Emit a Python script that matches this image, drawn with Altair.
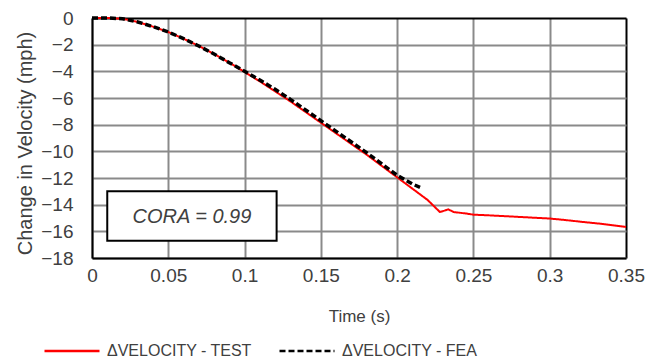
import altair as alt
import pandas as pd

# TEST series (red)
test_t = [0, 0.01, 0.02, 0.03, 0.04, 0.05, 0.06, 0.07, 0.08, 0.09, 0.1, 0.11, 0.12,
          0.13, 0.14, 0.15, 0.16, 0.17, 0.18, 0.19, 0.2, 0.21, 0.22, 0.228, 0.231,
          0.2335, 0.237, 0.2455, 0.25, 0.26, 0.272, 0.285, 0.3, 0.31, 0.322, 0.335, 0.35]
test_v = [0, 0, -0.05, -0.3, -0.65, -1.05, -1.55, -2.1, -2.7, -3.35, -4.05, -4.75, -5.5,
          -6.25, -7.05, -7.85, -8.65, -9.45, -10.25, -11.1, -11.95, -12.8, -13.65, -14.55, -14.45,
          -14.35, -14.55, -14.67, -14.75, -14.8, -14.87, -14.95, -15.04, -15.15, -15.3, -15.45, -15.67]

# FEA series (black dashed)
fea_t = [0, 0.01, 0.02, 0.03, 0.04, 0.05, 0.06, 0.07, 0.08, 0.09, 0.1, 0.11, 0.12,
         0.13, 0.14, 0.15, 0.16, 0.17, 0.18, 0.19, 0.2, 0.21, 0.215]
fea_v = [0, 0, -0.05, -0.3, -0.65, -1.05, -1.55, -2.1, -2.7, -3.35, -4.0, -4.65, -5.35,
         -6.1, -6.9, -7.7, -8.5, -9.3, -10.1, -10.95, -11.8, -12.45, -12.7]

series_names = ["\u0394VELOCITY - TEST", "\u0394VELOCITY - FEA"]
x_ticks = [0, 0.05, 0.1, 0.15, 0.2, 0.25, 0.3, 0.35]
y_ticks = [-18, -16, -14, -12, -10, -8, -6, -4, -2, 0]

# annotation box
box_x = [0.01]
box_x2 = [0.121]
box_y = [-13.0]
box_y2 = [-16.7]
label_x = [0.0655]
label_y = [-14.9]
label_text = ["CORA = 0.99"]

df = pd.concat([
    pd.DataFrame({"t": test_t, "v": test_v, "s": series_names[0]}),
    pd.DataFrame({"t": fea_t, "v": fea_v, "s": series_names[1]}),
])
box_df = pd.DataFrame({"x": box_x, "x2": box_x2, "y": box_y, "y2": box_y2})
lab_df = pd.DataFrame({"x": label_x, "y": label_y, "text": label_text})

FONT = "Liberation Sans"
TXT = "#404040"
GRID = "#8a8a8a"

xscale = alt.Scale(domain=[0, 0.35], nice=False, zero=False)
yscale = alt.Scale(domain=[-18, 0], nice=False, zero=False)

xaxis = alt.Axis(values=x_ticks, format="~g", title="Time (s)", grid=True,
                 gridColor={"condition": {"test": "datum.value >= 0.349", "value": "black"}, "value": GRID},
                 gridWidth=2, domainColor="black", domainWidth=2,
                 ticks=False, tickSize=0, labelPadding=8, labelFontSize=19, labelColor=TXT,
                 labelFlush=False, labelOverlap=False, labelBound=False,
                 labelFont=FONT, titleFont=FONT, titleFontSize=17, titleColor=TXT,
                 titleFontWeight="normal", titleBaseline="middle", titleY=58)
yaxis = alt.Axis(values=y_ticks, format="d", title="Change in Velocity (mph)", grid=True,
                 gridColor={"condition": {"test": "datum.value >= -0.01", "value": "black"}, "value": GRID},
                 gridWidth=2, domainColor="black", domainWidth=2,
                 ticks=False, tickSize=0, labelPadding=19, labelFontSize=19, labelColor=TXT,
                 labelFlush=False, labelOverlap=False, labelBound=False,
                 labelFont=FONT, titleFont=FONT, titleFontSize=20, titleColor=TXT,
                 titleFontWeight="normal", titleBaseline="middle", titleAlign="center",
                 titleAngle=-90, titleX=-67, titleY=125)

color_scale = alt.Scale(domain=series_names, range=["#ff0000", "black"])
dash_scale = alt.Scale(domain=series_names, range=[[1, 0], [6, 3]])
legend = alt.Legend(title=None, orient="none", legendX=-49, legendY=304, direction="horizontal",
                    symbolType="stroke", symbolSize=3025, symbolStrokeWidth=2.6,
                    labelFont=FONT, labelFontSize=16, labelColor=TXT, labelOffset=6,
                    columnPadding=22, labelLimit=300)

X = alt.X("t:Q", scale=xscale, axis=xaxis)
Y = alt.Y("v:Q", scale=yscale, axis=yaxis)

base = alt.Chart(df)
red = base.transform_filter(alt.datum.s == series_names[0]).mark_line(strokeWidth=2).encode(
    x=X, y=Y,
    color=alt.Color("s:N", scale=color_scale, legend=legend),
    strokeDash=alt.StrokeDash("s:N", scale=dash_scale, legend=legend),
)
fea = base.transform_filter(alt.datum.s == series_names[1]).mark_line(strokeWidth=3.5).encode(
    x=X, y=Y,
    color=alt.Color("s:N", scale=color_scale, legend=legend),
    strokeDash=alt.StrokeDash("s:N", scale=dash_scale, legend=legend),
)
box = alt.Chart(box_df).mark_rect(fill="white", stroke="black", strokeWidth=2).encode(
    x=alt.X("x:Q", scale=xscale, axis=xaxis), x2="x2:Q",
    y=alt.Y("y:Q", scale=yscale, axis=yaxis), y2="y2:Q",
)
txt = alt.Chart(lab_df).mark_text(font=FONT, fontSize=20, fontStyle="italic", color=TXT,
                                   align="center", baseline="middle").encode(
    x=alt.X("x:Q", scale=xscale, axis=xaxis), y=alt.Y("y:Q", scale=yscale, axis=yaxis), text="text:N",
)

chart = alt.layer(red, fea, box, txt).properties(
    width=534, height=240,
    autosize=alt.AutoSizeParams(type="none"),
    padding={"left": 84, "top": 10, "right": 28, "bottom": 105},
).configure_view(stroke="black", strokeWidth=2).configure_axis(
    labelOverlap=False, labelFlush=False, labelBound=False
).configure(background="white")

chart.save("out.html", embed_options={"renderer": "svg", "actions": False})
